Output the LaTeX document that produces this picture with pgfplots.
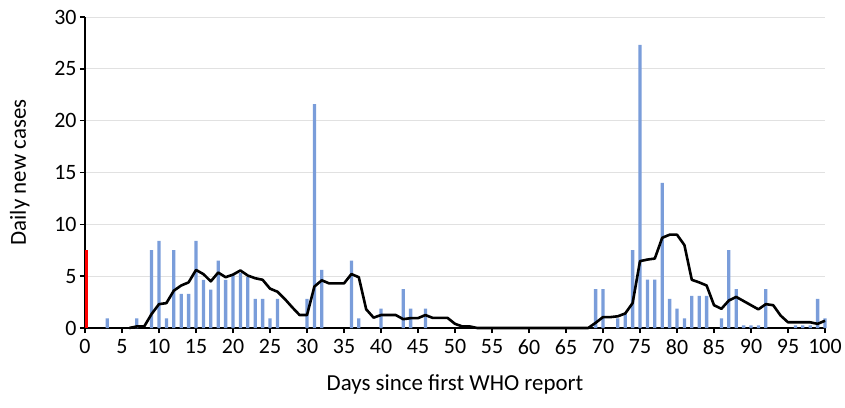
\documentclass[border=0pt]{standalone}
\usepackage{fontspec}
\setmainfont{Carlito}
\usepackage{pgfplots}
\pgfplotsset{compat=1.18}
\definecolor{barblue}{RGB}{122,157,218}
\definecolor{gridgray}{RGB}{225,225,225}
\begin{document}
\begin{tikzpicture}
\begin{axis}[
    name=ax,
    scale only axis,
    width=740bp, height=311bp,
    xmin=0, xmax=100,
    ymin=0, ymax=30,
    xtick={0,5,...,100},
    ytick={0,5,...,30},
    ymajorgrids=true,
    grid style={gridgray, line width=0.8bp},
    axis x line*=bottom,
    axis y line*=left,
    axis line style={black, line width=1.4bp, -},
    tick style={black, line width=1.4bp},
    tick align=outside,
    major tick length=5bp,
    xtick pos=bottom, ytick pos=left,
    tick label style={font=\fontsize{22}{24}\selectfont},
    x tick label style={yshift=-3bp},
    /pgf/number format/assume math mode=true,
    xlabel={Days since first WHO report},
    ylabel={Daily new cases},
    label style={font=\fontsize{23}{25}\selectfont},
    x label style={at={(axis description cs:0.5,-0.183)}, anchor=center},
    y label style={at={(axis description cs:-0.088,0.5)}, anchor=center},
    clip=false,
]
% daily cases
\addplot[ybar, bar width=3.3bp, fill=barblue, draw=none] coordinates {
(3,0.93)(7,0.93)(9,7.5)(10,8.4)(11,0.93)(12,7.5)(13,3.3)(14,3.3)(15,8.4)
(16,4.65)(17,3.7)(18,6.5)(19,4.65)(20,5.1)(21,5.3)(22,4.9)(23,2.8)(24,2.8)
(25,0.93)(26,2.8)(30,2.8)(31,21.6)(32,5.6)(36,6.5)(37,0.93)(40,1.87)
(43,3.74)(44,1.87)(46,1.87)(69,3.74)(70,3.74)(72,0.93)(73,1.4)(74,7.5)
(75,27.3)(76,4.67)(77,4.67)(78,14.0)(79,2.8)(80,1.87)(81,0.93)(82,3.1)
(83,3.1)(84,3.1)(86,0.93)(87,7.5)(88,3.74)(89,0.25)(90,0.25)(91,0.25)
(92,3.74)(96,0.25)(97,0.25)(98,0.25)(99,2.8)(100,0.93)
};
% first report
\addplot[ybar, bar width=3bp, fill=red, draw=none, bar shift=1.5bp] coordinates {(0,7.5)};
% moving average
\addplot[black, line width=2.6bp, line join=round, mark=none] coordinates {
(6,0)(7,0.15)(8,0.15)(9,1.35)(10,2.3)(11,2.4)(12,3.6)(13,4.1)(14,4.4)
(15,5.6)(16,5.2)(17,4.5)(18,5.35)(19,4.9)(20,5.15)(21,5.55)(22,5.06)
(23,4.8)(24,4.65)(25,3.8)(26,3.5)(27,2.8)(28,2.0)(29,1.25)(30,1.25)
(31,4.0)(32,4.6)(33,4.3)(34,4.3)(35,4.3)(36,5.2)(37,4.9)(38,1.8)(39,1.0)
(40,1.25)(41,1.25)(42,1.25)(43,0.85)(44,0.95)(45,0.95)(46,1.25)(47,0.97)
(48,0.97)(49,0.97)(50,0.4)(51,0.15)(52,0.15)(53,0)(60,0)(68,0)(69,0.5)
(70,1.05)(71,1.05)(72,1.13)(73,1.4)(74,2.4)(75,6.45)(76,6.6)(77,6.7)
(78,8.7)(79,9.0)(80,9.0)(81,8.0)(82,4.65)(83,4.4)(84,4.1)(85,2.2)(86,1.85)
(87,2.65)(88,3.0)(89,2.6)(90,2.2)(91,1.8)(92,2.3)(93,2.2)(94,1.2)(95,0.55)
(96,0.55)(97,0.55)(98,0.55)(99,0.4)(100,0.7)
};
\end{axis}
\path ([shift={(-85bp,-80bp)}]ax.south west) rectangle ([shift={(20bp,17bp)}]ax.north east);
\end{tikzpicture}
\end{document}
